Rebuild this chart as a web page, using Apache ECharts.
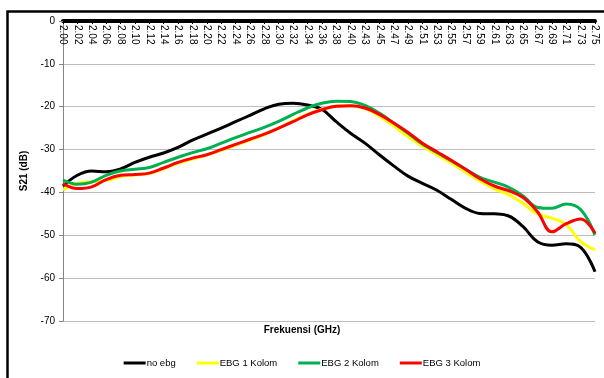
<!DOCTYPE html>
<html>
<head>
<meta charset="utf-8">
<script src="https://cdn.jsdelivr.net/npm/echarts@6/dist/echarts.min.js"></script>
<style>
html,body{margin:0;padding:0;background:#fff;}
#chart{width:604px;height:378px;}
</style>
</head>
<body>
<div id="chart"></div>
<script>
const categories = ['2.00','2.02','2.04','2.06','2.08','2.10','2.12','2.14','2.16','2.18','2.20','2.22','2.24','2.26','2.28','2.30','2.32','2.34','2.36','2.38','2.40','2.43','2.45','2.47','2.49','2.51','2.53','2.55','2.57','2.59','2.61','2.63','2.65','2.67','2.69','2.71','2.73','2.75'];
const noEbg = [-38.5,-36.0,-35.0,-35.2,-34.5,-33.0,-31.8,-30.8,-29.5,-27.8,-26.4,-25.0,-23.5,-22.0,-20.5,-19.4,-19.2,-19.6,-20.6,-23.5,-26.2,-28.5,-31.2,-33.8,-36.2,-37.9,-39.5,-41.6,-43.7,-44.9,-45.0,-45.5,-48.0,-51.5,-52.3,-52.0,-52.8,-58.5];
const ebg1 = [-39.4,-37.9,-37.5,-37.2,-36.3,-35.9,-35.6,-34.5,-33.2,-32.2,-31.3,-30.2,-29.0,-27.8,-26.5,-25.0,-23.3,-21.8,-20.6,-19.9,-19.8,-20.4,-22.2,-24.5,-27.0,-29.2,-31.2,-33.1,-35.3,-37.3,-39.2,-40.5,-42.6,-45.0,-46.0,-47.5,-51.5,-53.4];
const ebg2 = [-37.1,-38.1,-37.6,-36.0,-35.0,-34.6,-34.2,-33.0,-31.8,-30.7,-29.8,-28.5,-27.2,-26.0,-24.8,-23.4,-21.8,-20.3,-19.2,-18.7,-18.8,-19.7,-21.5,-23.8,-26.2,-28.7,-30.7,-32.6,-34.6,-36.5,-37.6,-38.8,-40.8,-43.5,-43.7,-42.7,-44.0,-49.9];
const ebg3 = [-37.9,-39.1,-38.7,-37.0,-36.0,-35.8,-35.5,-34.3,-33.0,-32.0,-31.2,-30.0,-28.8,-27.6,-26.4,-25.0,-23.5,-21.9,-20.7,-19.9,-19.8,-20.3,-21.8,-23.8,-26.0,-28.5,-30.5,-32.5,-34.6,-36.8,-38.5,-39.6,-41.2,-44.5,-49.2,-47.3,-46.2,-49.5];
const yTicks = {min:-70, max:0, interval:10};

const chart = echarts.init(document.getElementById('chart'));
const mk = (name, data, color) => ({
  name, type:'line', data, smooth:0.4, symbol:'none',
  lineStyle:{color, width:3}, itemStyle:{color}
});
chart.setOption({
  animation:false,
  grid:{left:63, right:9, top:21, bottom:57},
  legend:{
    bottom:5, left:'center', itemWidth:22, itemHeight:3, itemGap:21,
    icon:'rect',
    textStyle:{fontFamily:'Liberation Sans', fontSize:9.5, color:'#000', padding:[0,0,0,-4]},
    data:['no ebg','EBG 1 Kolom','EBG 2 Kolom','EBG 3 Kolom']
  },
  xAxis:{
    type:'category', data:categories, boundaryGap:false, position:'top',
    axisLine:{onZero:false, lineStyle:{color:'#000', width:4}},
    axisTick:{show:true, inside:true, length:3, lineStyle:{color:'#000'}},
    axisLabel:{interval:0, rotate:90, inside:true, fontFamily:'Liberation Sans', fontSize:10, color:'#000', margin:4},
    splitLine:{show:false}
  },
  yAxis:{
    type:'value', min:yTicks.min, max:yTicks.max, interval:yTicks.interval,
    name:'S21 (dB)', nameLocation:'middle', nameGap:30,
    nameTextStyle:{fontFamily:'Liberation Sans', fontSize:10, fontWeight:'bold', color:'#000'},
    axisLine:{show:true, lineStyle:{color:'#868686'}},
    axisTick:{show:true, length:4, lineStyle:{color:'#868686'}},
    axisLabel:{fontFamily:'Liberation Sans', fontSize:10, color:'#000', margin:8},
    splitLine:{lineStyle:{color:'#bcbcbc', width:1}}
  },
  graphic:[
    {type:'rect', left:5, top:9, shape:{x:0,y:0,width:700,height:500}, style:{fill:'none', stroke:'#000', lineWidth:2.5}, silent:true},
    {type:'text', left:'center', top:325, style:{text:'Frekuensi (GHz)', fontFamily:'Liberation Sans', fontSize:10, fontWeight:'bold', fill:'#000'}, x:33}
  ],
  series:[
    mk('no ebg', noEbg, '#000000'),
    mk('EBG 1 Kolom', ebg1, '#FFFF00'),
    mk('EBG 2 Kolom', ebg2, '#00B050'),
    mk('EBG 3 Kolom', ebg3, '#FF0000')
  ]
});
</script>
</body>
</html>
